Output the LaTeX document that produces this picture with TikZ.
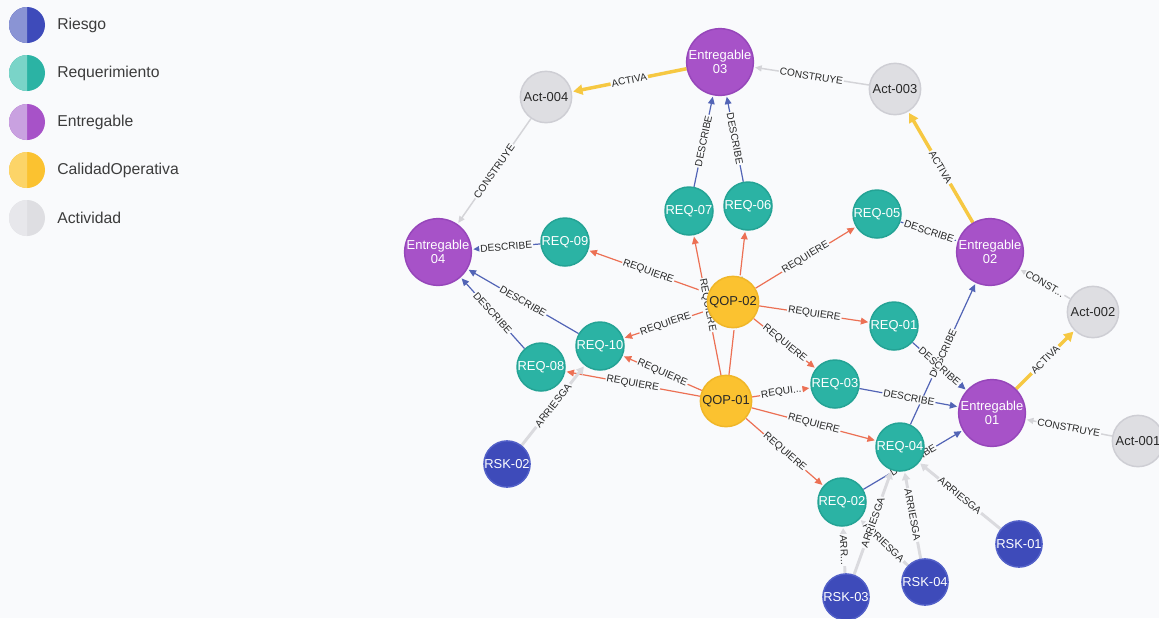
\documentclass[tikz,border=0pt]{standalone}
\usepackage{fontspec}
\setmainfont{Liberation Sans}
\usetikzlibrary{arrows.meta}

% palette
\definecolor{canvas}{RGB}{249,250,252}
\definecolor{reqC}{RGB}{43,179,164}   \definecolor{reqB}{RGB}{36,163,149}  \definecolor{reqL}{RGB}{122,212,200}
\definecolor{rskC}{RGB}{62,75,186}    \definecolor{rskB}{RGB}{82,96,200}   \definecolor{rskL}{RGB}{138,148,212}
\definecolor{entC}{RGB}{167,82,200}   \definecolor{entB}{RGB}{150,70,186}  \definecolor{entL}{RGB}{201,161,224}
\definecolor{qopC}{RGB}{251,194,48}   \definecolor{qopB}{RGB}{240,182,40}  \definecolor{qopL}{RGB}{252,212,104}
\definecolor{actC}{RGB}{222,222,226}  \definecolor{actB}{RGB}{206,206,212} \definecolor{actL}{RGB}{231,231,235}
\definecolor{reqLink}{RGB}{236,112,84}
\definecolor{descLink}{RGB}{82,100,182}
\definecolor{actvLink}{RGB}{246,200,66}
\definecolor{consLink}{RGB}{212,212,216}
\definecolor{riskLink}{RGB}{218,218,222}
\definecolor{ink}{RGB}{40,40,40}
\definecolor{legink}{RGB}{60,60,60}

\pgfdeclarelayer{back}
\pgfdeclarelayer{links}
\pgfsetlayers{back,links,main}

\begin{document}
\begin{tikzpicture}[x=0.75pt,y=-0.75pt,
  gnode/.style={circle, inner sep=0pt, line width=1.1pt, align=center,
                font=\fontsize{9.7}{10.5}\selectfont},
  req/.style={gnode, minimum size=30pt, fill=reqC, draw=reqB, text=white},
  rsk/.style={gnode, minimum size=29pt, fill=rskC, draw=rskB, text=white},
  ent/.style={gnode, minimum size=49pt, fill=entC, draw=entB, text=white},
  qop/.style={gnode, minimum size=38.5pt, fill=qopC, draw=qopB, text=ink},
  act/.style={gnode, minimum size=38.5pt, fill=actC, draw=actB, text=ink},
  lbl/.style={midway, sloped, fill=canvas, inner sep=0.8pt, text=ink,
              font=\fontsize{7.6}{7.6}\selectfont},
  requiere/.style={draw=reqLink, line width=0.9pt, shorten >=1pt,
                   -{Triangle[length=5.5pt,width=5pt,fill=reqLink]}},
  describe/.style={draw=descLink, line width=0.9pt, shorten >=1pt,
                   -{Triangle[length=5.5pt,width=5pt,fill=descLink]}},
  activa/.style={draw=actvLink, line width=2.6pt, shorten >=1pt,
                 -{Triangle[length=7pt,width=7.5pt,fill=actvLink]}},
  construye/.style={draw=consLink, line width=1.1pt, shorten >=1pt,
                    -{Triangle[length=5pt,width=4.5pt,fill=consLink]}},
  arriesga/.style={draw=riskLink, line width=2.2pt, shorten >=1pt,
                   -{Triangle[length=5.5pt,width=6pt,fill=riskLink]}},
  legtext/.style={anchor=west, inner sep=0pt, text=legink,
                  font=\fontsize{11.8}{12}\selectfont}
]

\begin{pgfonlayer}{back}
  \fill[canvas] (0,0) rectangle (1159,618);
\end{pgfonlayer}
\path[use as bounding box] (0,0) rectangle (1159,618);

% legend: half-shaded swatches
\foreach \yy/\dk/\lt/\name/\txt in {25/rskC/rskL/lgA/Riesgo,
                                     73/reqC/reqL/lgB/Requerimiento,
                                     122/entC/entL/lgC/Entregable,
                                     170/qopC/qopL/lgD/CalidadOperativa,
                                     218/actC/actL/lgE/Actividad}{
  \fill[\dk] (27,\yy) circle[radius=18];
  \begin{scope}
    \clip (5,\yy-20) rectangle (27,\yy+20);
    \fill[\lt] (27,\yy) circle[radius=18];
  \end{scope}
  \node[legtext] (\name) at (57,\yy) {\txt};
}

% graph nodes
\node[ent] (E03) at (720,62)  {Entregable\\03};
\node[ent] (E04) at (438,252) {Entregable\\04};
\node[ent] (E02) at (990,252) {Entregable\\02};
\node[ent] (E01) at (992,413) {Entregable\\01};

\node[act] (A004) at (546,97)   {Act-004};
\node[act] (A003) at (895,89)   {Act-003};
\node[act] (A002) at (1093,312) {Act-002};
\node[act] (A001) at (1138,441) {Act-001};

\node[qop] (Q02) at (733,302) {QOP-02};
\node[qop] (Q01) at (726,401) {QOP-01};

\node[req] (R09) at (565,242) {REQ-09};
\node[req] (R07) at (689,211) {REQ-07};
\node[req] (R06) at (748,206) {REQ-06};
\node[req] (R05) at (877,214) {REQ-05};
\node[req] (R01) at (894,326) {REQ-01};
\node[req] (R10) at (600,346) {REQ-10};
\node[req] (R08) at (541,367) {REQ-08};
\node[req] (R03) at (835,384) {REQ-03};
\node[req] (R04) at (900,447) {REQ-04};
\node[req] (R02) at (842,502) {REQ-02};

\node[rsk] (K02) at (507,464)  {RSK-02};
\node[rsk] (K01) at (1019,544) {RSK-01};
\node[rsk] (K04) at (925,582)  {RSK-04};
\node[rsk] (K03) at (846,597)  {RSK-03};

\begin{pgfonlayer}{links}
  % REQUIERE
  \draw[requiere] (Q02) -- node[lbl]{REQUIERE} (R09);
  \draw[requiere] (Q02) -- node[lbl]{REQUIERE} (R05);
  \draw[requiere] (Q02) -- node[lbl]{REQUIERE} (R01);
  \draw[requiere] (Q02) -- node[lbl]{REQUIERE} (R03);
  \draw[requiere] (Q02) -- node[lbl]{REQUIERE} (R10);
  \draw[requiere] (Q01) -- node[lbl]{REQUIERE} (R07);
  \draw[requiere] (Q01) -- node[lbl]{REQUIERE} (R06);
  \draw[requiere] (Q01) -- node[lbl]{REQUIERE} (R10);
  \draw[requiere] (Q01) -- node[lbl]{REQUIERE} (R08);
  \draw[requiere] (Q01) -- node[lbl]{REQUI...} (R03);
  \draw[requiere] (Q01) -- node[lbl]{REQUIERE} (R04);
  \draw[requiere] (Q01) -- node[lbl]{REQUIERE} (R02);

  % DESCRIBE
  \draw[describe] (R07) -- node[lbl]{DESCRIBE} (E03);
  \draw[describe] (R06) -- node[lbl]{DESCRIBE} (E03);
  \draw[describe] (R09) -- node[lbl]{DESCRIBE} (E04);
  \draw[describe] (R10) -- node[lbl]{DESCRIBE} (E04);
  \draw[describe] (R08) -- node[lbl]{DESCRIBE} (E04);
  \draw[describe] (R05) -- node[lbl]{DESCRIBE} (E02);
  \draw[describe] (R04) -- node[lbl]{DESCRIBE} (E02);
  \draw[describe] (R01) -- node[lbl]{DESCRIBE} (E01);
  \draw[describe] (R03) -- node[lbl]{DESCRIBE} (E01);
  \draw[describe] (R02) -- node[lbl]{DESCRIBE} (E01);

  % ACTIVA
  \draw[activa] (E03) -- node[lbl]{ACTIVA} (A004);
  \draw[activa] (E02) -- node[lbl]{ACTIVA} (A003);
  \draw[activa] (E01) -- node[lbl]{ACTIVA} (A002);

  % CONSTRUYE
  \draw[construye] (A003) -- node[lbl]{CONSTRUYE} (E03);
  \draw[construye] (A004) -- node[lbl]{CONSTRUYE} (E04);
  \draw[construye] (A002) -- node[lbl]{CONST...} (E02);
  \draw[construye] (A001) -- node[lbl]{CONSTRUYE} (E01);

  % ARRIESGA
  \draw[arriesga] (K02) -- node[lbl]{ARRIESGA} (R10);
  \draw[arriesga] (K01) -- node[lbl]{ARRIESGA} (R04);
  \draw[arriesga] (K04) -- node[lbl]{ARRIESGA} (R04);
  \draw[arriesga] (K04) -- node[lbl]{ARRIESGA} (R02);
  \draw[arriesga] (K03) -- node[lbl]{ARR...} (R02);
  \draw[arriesga] (K03) -- node[lbl]{ARRIESGA} (R04);
\end{pgfonlayer}

\end{tikzpicture}
\end{document}
